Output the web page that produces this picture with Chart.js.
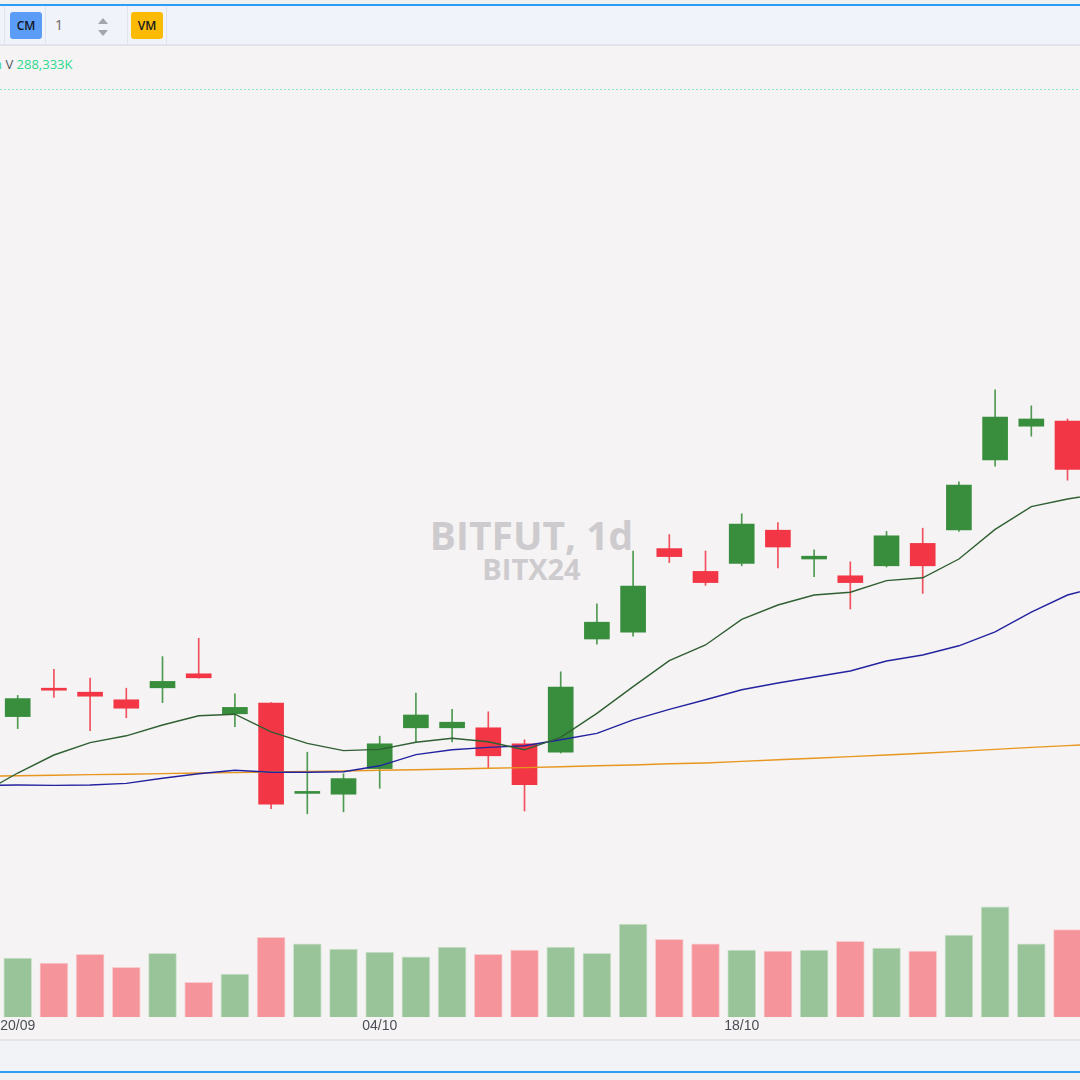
<!DOCTYPE html>
<html>
<head>
<meta charset="utf-8">
<script src="https://cdn.jsdelivr.net/npm/chart.js@4.4.1/dist/chart.umd.min.js"></script>
<style>
  html,body{margin:0;padding:0;width:1080px;height:1080px;overflow:hidden;background:#f0f0f0;font-family:"Open Sans",sans-serif;}
  #page{position:relative;width:1080px;height:1080px;background:#f0f0f0;}
  .abs{position:absolute;}
  #topline{left:0;top:4px;width:1080px;height:2px;background:#2a9df4;}
  #toolbar{left:0;top:6px;width:1080px;height:38px;background:#f0f3fa;}
  #toolbarBorder{left:0;top:44px;width:1080px;height:2px;background:#e0e3eb;}
  .sep{top:6px;width:1px;height:38px;background:#e0e3eb;}
  .btn{top:12px;height:27px;width:32px;border-radius:3px;font:600 12px "Open Sans",sans-serif;color:#131722;display:flex;align-items:center;justify-content:center;}
  #pane{left:0;top:46px;width:1080px;height:993px;background:#f5f3f4;}
  #dotted{left:0;top:89px;width:1080px;height:1px;background-image:repeating-linear-gradient(90deg,#8fe6c0 0 2px,transparent 2px 4px);}
  #legend{left:0;top:55px;font:13px "Open Sans",sans-serif;white-space:nowrap;}
  .wm{left:0;width:1063px;text-align:center;color:#cdcbce;font-family:"Open Sans",sans-serif;font-weight:700;}
  #bottomSep{left:0;top:1039px;width:1080px;height:2px;background:#e3e5ea;}
  #bottomBand{left:0;top:1041px;width:1080px;height:30px;background:#f1f3f7;}
  #bottomLine{left:0;top:1071px;width:1080px;height:2px;background:#2a9df4;}
  #cwrap{left:0;top:48px;width:1080px;height:992px;}
</style>
</head>
<body>
<div id="page">
  <div class="abs" id="topline"></div>
  <div class="abs" id="toolbar"></div>
  <div class="abs" id="toolbarBorder"></div>
  <div class="abs sep" style="left:4px"></div>
  <div class="abs btn" style="left:10px;background:#5b9cf6;">CM</div>
  <div class="abs sep" style="left:45px"></div>
  <div class="abs" style="left:55px;top:15px;font:14px 'Open Sans',sans-serif;color:#6e6262;">1</div>
  <div class="abs" style="left:98px;top:18px;width:0;height:0;border-left:5px solid transparent;border-right:5px solid transparent;border-bottom:6px solid #a3a6ae;"></div>
  <div class="abs" style="left:98px;top:30px;width:0;height:0;border-left:5px solid transparent;border-right:5px solid transparent;border-top:6px solid #a3a6ae;"></div>
  <div class="abs sep" style="left:127px"></div>
  <div class="abs btn" style="left:131px;background:#fbbb05;">VM</div>
  <div class="abs sep" style="left:166px"></div>

  <div class="abs" id="pane"></div>
  <div class="abs" id="dotted"></div>
  <div class="abs" id="legend"><span style="color:#2bd98f;margin-left:-6px;">n</span> <span style="color:#50535e;">V</span> <span id="lastVol" style="color:#2bd98f;"></span></div>
  <div class="abs wm" style="top:507px;font-size:39px;line-height:56px;">BITFUT, 1d</div>
  <div class="abs wm" style="top:549px;font-size:29px;line-height:40px;">BITX24</div>

  <div class="abs" id="bottomSep"></div>
  <div class="abs" id="bottomBand"></div>
  <div class="abs" id="bottomLine"></div>

  <div class="abs" id="cwrap"><canvas id="c" width="1080" height="992"></canvas></div>
</div>
<script>
// ---- data ----
const dates = ['20/09','23/09','24/09','25/09','26/09','27/09','30/09','01/10','02/10','03/10',
               '04/10','07/10','08/10','09/10','10/10','11/10','14/10','15/10','16/10','17/10',
               '18/10','21/10','22/10','23/10','24/10','25/10','28/10','29/10','30/10','31/10'];
const tickIdx = [0, 10, 20];
const opens  = [62510,63220,63120,62930,63230,63580,62580,62850,60590,60570,61210,62230,62230,62230,61830,61620,64450,64620,66710,66140,66340,67170,66450,66030,66280,66840,67180,68930,69770,69900];
const highs  = [63040,63690,63470,63220,64010,64470,63080,62860,61620,61080,62020,63100,62690,62630,61930,63630,65330,66650,67060,66650,67580,67360,66680,66380,67140,67220,68380,70680,70280,69950];
const lows   = [62210,62990,62160,62480,62860,63470,62260,60210,60080,60130,60720,61860,61880,61230,60150,61600,64320,64520,66360,65790,66280,66230,66010,65200,66250,65590,67140,68770,69520,68420];
const closes = [62960,63170,63020,62720,63390,63480,62740,60320,60610,60960,61830,62550,62370,61530,60810,63250,64870,65770,66510,65860,67320,66750,66520,65860,67030,66280,68300,70000,69950,68690];
const volumesK = [194800,178300,207000,164100,210300,114600,142000,263200,242000,224500,214600,199100,231100,207000,221200,231100,210300,307100,256600,242000,221200,217900,221200,250000,227800,217900,270800,364200,242000,288333];
// moving averages, from index -1 (off-screen left) to index 30 (off-screen right)
const maStart = -1;
const maFast = [60590,61100,61550,61860,62030,62300,62530,62570,62130,61840,61660,61690,61870,61970,61880,61680,61990,62590,63260,63910,64300,64940,65300,65550,65620,65910,65980,66450,67190,67760,67950,68100];
const maMid  = [60790,60800,60790,60800,60840,60970,61080,61170,61120,61120,61130,61280,61560,61680,61740,61780,61930,62090,62430,62690,62930,63180,63350,63500,63650,63900,64050,64280,64630,65120,65550,65780];
const maSlow = [61020,61030,61045,61060,61070,61085,61100,61110,61125,61140,61150,61170,61180,61200,61220,61235,61255,61280,61300,61330,61350,61390,61430,61470,61510,61550,61595,61640,61690,61740,61785,61830];

// ---- styles ----
const UP = '#388e3c', DOWN = '#f23645';
const UPV = '#99c499', DOWNV = '#f5959b';

document.getElementById('lastVol').textContent =
  volumesK[volumesK.length-1].toLocaleString('en-US') + 'K';

const isUp = opens.map((o,i)=>closes[i] >= o);
const idx = opens.map((_,i)=>i);
const maPts = arr => arr.map((v,k)=>({x: maStart + k, y: v}));

new Chart(document.getElementById('c'), {
  type: 'bar',
  data: {
    datasets: [
      { type:'line', data: maPts(maFast), borderColor:'#2f5f32', borderWidth:1.4, pointRadius:0, tension:0, yAxisID:'y', order:0 },
      { type:'line', data: maPts(maMid),  borderColor:'#2323a0', borderWidth:1.4, pointRadius:0, tension:0, yAxisID:'y', order:0 },
      { type:'line', data: maPts(maSlow), borderColor:'#e8961e', borderWidth:1.4, pointRadius:0, tension:0, yAxisID:'y', order:0 },
      { type:'bar', data: idx.map(i=>({x:i, y:[opens[i], closes[i]]})), backgroundColor: isUp.map(u=>u?UP:DOWN),
        barThickness:25, grouped:false, minBarLength:2, yAxisID:'y', order:1 },
      { type:'bar', data: idx.map(i=>({x:i, y:[lows[i], highs[i]]})), backgroundColor: isUp.map(u=>u?'#4f9a52':'#f2505d'),
        barThickness:1, grouped:false, yAxisID:'y', order:2 },
      { type:'bar', data: idx.map(i=>({x:i, y:volumesK[i]})), backgroundColor: isUp.map(u=>u?UPV:DOWNV),
        borderColor: isUp.map(u=>u?'#cfe3cf':'#f9cdd0'), borderWidth:1,
        barThickness:28, grouped:false, yAxisID:'yv', order:3 }
    ]
  },
  options: {
    responsive:false, animation:false, devicePixelRatio:1,
    layout:{padding:0},
    plugins:{legend:{display:false}, tooltip:{enabled:false}},
    scales:{
      x:{ type:'linear', min:-0.489, max:29.345, offset:false,
          grid:{display:false, drawTicks:false}, border:{display:false},
          afterBuildTicks: s => { s.ticks = tickIdx.map(v=>({value:v})); },
          afterFit: s => { s.height = 23; s.paddingLeft = 0; s.paddingRight = 0; },
          ticks:{ autoSkip:false, maxRotation:0, minRotation:0, padding:1, color:'#4b4d57',
                  font:{family:'"Liberation Sans", Arial, sans-serif', size:14},
                  callback: v => dates[v] } },
      y:{ display:false, min:55000, max:79225 },
      yv:{ display:false, min:0, max:3200400 }
    }
  }
});
</script>
</body>
</html>
